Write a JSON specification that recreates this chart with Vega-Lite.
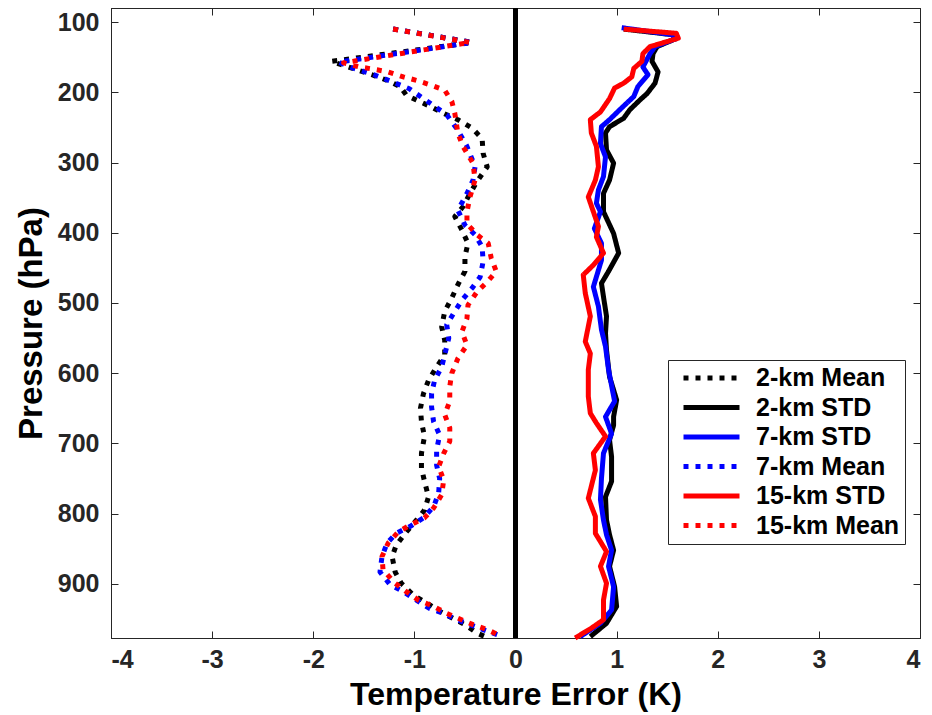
{
"$schema": "https://vega.github.io/schema/vega-lite/v6.json",
"width": 809, "height": 630,
"autosize": {"type": "none"},
"padding": {"left": 111, "top": 8, "right": 12, "bottom": 77},
"background": "white",
"config": {
  "font": "Liberation Sans",
  "view": {"stroke": "#262626", "strokeWidth": 1},
  "axis": {"grid": false, "domainColor": "#262626", "tickColor": "#262626", "labelColor": "#262626", "labelFont": "Liberation Sans", "labelFontWeight": "bold", "labelFontSize": 25, "titleFont": "Liberation Sans", "titleFontWeight": "bold", "titleFontSize": 33, "titleColor": "black", "tickSize": -7, "domainWidth": 1},
  "legend": {"orient": "none", "legendX": 557, "legendY": 352, "strokeColor": "#262626", "fillColor": "white", "padding": 5, "labelFont": "Liberation Sans", "labelFontSize": 25, "labelFontWeight": "bold", "labelColor": "black", "symbolType": "stroke", "symbolSize": 3136, "symbolStrokeWidth": 5, "rowPadding": 3.5, "clipHeight": 26, "labelOffset": 14, "symbolOffset": 8}
},
"datasets": {
  "zero": [{"x0": 0}],
  "profiles": [
{"s":"2-km Mean","p":110,"t":-1.21},{"s":"2-km Mean","p":129,"t":-0.43},{"s":"2-km Mean","p":156,"t":-1.82},{"s":"2-km Mean","p":175,"t":-1.42},{"s":"2-km Mean","p":183,"t":-1.27},{"s":"2-km Mean","p":192,"t":-1.14},{"s":"2-km Mean","p":204,"t":-1.08},{"s":"2-km Mean","p":211,"t":-0.98},{"s":"2-km Mean","p":221,"t":-0.83},{"s":"2-km Mean","p":230,"t":-0.71},{"s":"2-km Mean","p":239,"t":-0.57},{"s":"2-km Mean","p":251,"t":-0.43},{"s":"2-km Mean","p":266,"t":-0.33},{"s":"2-km Mean","p":287,"t":-0.32},{"s":"2-km Mean","p":306,"t":-0.28},{"s":"2-km Mean","p":327,"t":-0.38},{"s":"2-km Mean","p":344,"t":-0.45},{"s":"2-km Mean","p":363,"t":-0.52},{"s":"2-km Mean","p":377,"t":-0.60},{"s":"2-km Mean","p":396,"t":-0.53},{"s":"2-km Mean","p":415,"t":-0.47},{"s":"2-km Mean","p":434,"t":-0.50},{"s":"2-km Mean","p":455,"t":-0.50},{"s":"2-km Mean","p":474,"t":-0.57},{"s":"2-km Mean","p":493,"t":-0.63},{"s":"2-km Mean","p":512,"t":-0.70},{"s":"2-km Mean","p":534,"t":-0.73},{"s":"2-km Mean","p":553,"t":-0.70},{"s":"2-km Mean","p":574,"t":-0.70},{"s":"2-km Mean","p":591,"t":-0.78},{"s":"2-km Mean","p":610,"t":-0.86},{"s":"2-km Mean","p":629,"t":-0.91},{"s":"2-km Mean","p":650,"t":-0.94},{"s":"2-km Mean","p":669,"t":-0.93},{"s":"2-km Mean","p":690,"t":-0.90},{"s":"2-km Mean","p":714,"t":-0.93},{"s":"2-km Mean","p":735,"t":-0.93},{"s":"2-km Mean","p":754,"t":-0.90},{"s":"2-km Mean","p":776,"t":-0.86},{"s":"2-km Mean","p":795,"t":-0.90},{"s":"2-km Mean","p":811,"t":-0.99},{"s":"2-km Mean","p":828,"t":-1.09},{"s":"2-km Mean","p":845,"t":-1.18},{"s":"2-km Mean","p":861,"t":-1.22},{"s":"2-km Mean","p":883,"t":-1.19},{"s":"2-km Mean","p":899,"t":-1.13},{"s":"2-km Mean","p":916,"t":-1.01},{"s":"2-km Mean","p":927,"t":-0.88},{"s":"2-km Mean","p":939,"t":-0.75},{"s":"2-km Mean","p":949,"t":-0.62},{"s":"2-km Mean","p":958,"t":-0.50},{"s":"2-km Mean","p":970,"t":-0.38},{"s":"2-km Mean","p":977,"t":-0.27},
{"s":"2-km STD","p":110,"t":1.07},{"s":"2-km STD","p":118,"t":1.55},{"s":"2-km STD","p":124,"t":1.58},{"s":"2-km STD","p":135,"t":1.40},{"s":"2-km STD","p":145,"t":1.36},{"s":"2-km STD","p":156,"t":1.35},{"s":"2-km STD","p":171,"t":1.41},{"s":"2-km STD","p":187,"t":1.38},{"s":"2-km STD","p":202,"t":1.30},{"s":"2-km STD","p":211,"t":1.23},{"s":"2-km STD","p":225,"t":1.13},{"s":"2-km STD","p":237,"t":1.07},{"s":"2-km STD","p":249,"t":0.93},{"s":"2-km STD","p":258,"t":0.89},{"s":"2-km STD","p":282,"t":0.90},{"s":"2-km STD","p":301,"t":0.97},{"s":"2-km STD","p":325,"t":0.93},{"s":"2-km STD","p":344,"t":0.87},{"s":"2-km STD","p":370,"t":0.87},{"s":"2-km STD","p":401,"t":0.97},{"s":"2-km STD","p":429,"t":1.02},{"s":"2-km STD","p":455,"t":0.92},{"s":"2-km STD","p":472,"t":0.85},{"s":"2-km STD","p":491,"t":0.87},{"s":"2-km STD","p":519,"t":0.90},{"s":"2-km STD","p":543,"t":0.89},{"s":"2-km STD","p":567,"t":0.90},{"s":"2-km STD","p":605,"t":0.93},{"s":"2-km STD","p":638,"t":1.00},{"s":"2-km STD","p":662,"t":0.97},{"s":"2-km STD","p":674,"t":0.97},{"s":"2-km STD","p":695,"t":0.93},{"s":"2-km STD","p":719,"t":0.95},{"s":"2-km STD","p":754,"t":0.95},{"s":"2-km STD","p":776,"t":0.89},{"s":"2-km STD","p":809,"t":0.90},{"s":"2-km STD","p":830,"t":0.93},{"s":"2-km STD","p":852,"t":0.97},{"s":"2-km STD","p":875,"t":0.93},{"s":"2-km STD","p":904,"t":0.98},{"s":"2-km STD","p":932,"t":1.00},{"s":"2-km STD","p":956,"t":0.90},{"s":"2-km STD","p":975,"t":0.74},
{"s":"7-km STD","p":108,"t":1.05},{"s":"7-km STD","p":118,"t":1.55},{"s":"7-km STD","p":124,"t":1.58},{"s":"7-km STD","p":135,"t":1.38},{"s":"7-km STD","p":145,"t":1.33},{"s":"7-km STD","p":164,"t":1.26},{"s":"7-km STD","p":175,"t":1.31},{"s":"7-km STD","p":192,"t":1.21},{"s":"7-km STD","p":206,"t":1.17},{"s":"7-km STD","p":225,"t":1.03},{"s":"7-km STD","p":239,"t":0.93},{"s":"7-km STD","p":249,"t":0.85},{"s":"7-km STD","p":273,"t":0.84},{"s":"7-km STD","p":292,"t":0.89},{"s":"7-km STD","p":320,"t":0.87},{"s":"7-km STD","p":339,"t":0.82},{"s":"7-km STD","p":358,"t":0.80},{"s":"7-km STD","p":370,"t":0.84},{"s":"7-km STD","p":394,"t":0.78},{"s":"7-km STD","p":415,"t":0.85},{"s":"7-km STD","p":439,"t":0.85},{"s":"7-km STD","p":477,"t":0.77},{"s":"7-km STD","p":505,"t":0.82},{"s":"7-km STD","p":538,"t":0.85},{"s":"7-km STD","p":562,"t":0.89},{"s":"7-km STD","p":595,"t":0.92},{"s":"7-km STD","p":640,"t":0.98},{"s":"7-km STD","p":662,"t":0.89},{"s":"7-km STD","p":674,"t":0.92},{"s":"7-km STD","p":686,"t":0.95},{"s":"7-km STD","p":714,"t":0.87},{"s":"7-km STD","p":750,"t":0.85},{"s":"7-km STD","p":780,"t":0.84},{"s":"7-km STD","p":809,"t":0.87},{"s":"7-km STD","p":830,"t":0.90},{"s":"7-km STD","p":852,"t":0.95},{"s":"7-km STD","p":875,"t":0.92},{"s":"7-km STD","p":904,"t":0.97},{"s":"7-km STD","p":937,"t":0.95},{"s":"7-km STD","p":956,"t":0.84},{"s":"7-km STD","p":975,"t":0.64},
{"s":"7-km Mean","p":110,"t":-1.21},{"s":"7-km Mean","p":129,"t":-0.43},{"s":"7-km Mean","p":157,"t":-1.75},{"s":"7-km Mean","p":165,"t":-1.62},{"s":"7-km Mean","p":175,"t":-1.40},{"s":"7-km Mean","p":185,"t":-1.22},{"s":"7-km Mean","p":195,"t":-1.05},{"s":"7-km Mean","p":215,"t":-0.85},{"s":"7-km Mean","p":232,"t":-0.68},{"s":"7-km Mean","p":254,"t":-0.57},{"s":"7-km Mean","p":277,"t":-0.48},{"s":"7-km Mean","p":306,"t":-0.40},{"s":"7-km Mean","p":325,"t":-0.42},{"s":"7-km Mean","p":344,"t":-0.48},{"s":"7-km Mean","p":368,"t":-0.57},{"s":"7-km Mean","p":389,"t":-0.50},{"s":"7-km Mean","p":403,"t":-0.40},{"s":"7-km Mean","p":420,"t":-0.33},{"s":"7-km Mean","p":441,"t":-0.32},{"s":"7-km Mean","p":463,"t":-0.35},{"s":"7-km Mean","p":479,"t":-0.43},{"s":"7-km Mean","p":496,"t":-0.53},{"s":"7-km Mean","p":512,"t":-0.60},{"s":"7-km Mean","p":531,"t":-0.68},{"s":"7-km Mean","p":550,"t":-0.66},{"s":"7-km Mean","p":574,"t":-0.70},{"s":"7-km Mean","p":591,"t":-0.73},{"s":"7-km Mean","p":610,"t":-0.80},{"s":"7-km Mean","p":629,"t":-0.83},{"s":"7-km Mean","p":648,"t":-0.83},{"s":"7-km Mean","p":669,"t":-0.81},{"s":"7-km Mean","p":688,"t":-0.75},{"s":"7-km Mean","p":709,"t":-0.78},{"s":"7-km Mean","p":731,"t":-0.78},{"s":"7-km Mean","p":750,"t":-0.75},{"s":"7-km Mean","p":771,"t":-0.76},{"s":"7-km Mean","p":790,"t":-0.81},{"s":"7-km Mean","p":806,"t":-0.91},{"s":"7-km Mean","p":818,"t":-1.04},{"s":"7-km Mean","p":828,"t":-1.18},{"s":"7-km Mean","p":842,"t":-1.27},{"s":"7-km Mean","p":861,"t":-1.32},{"s":"7-km Mean","p":883,"t":-1.34},{"s":"7-km Mean","p":901,"t":-1.24},{"s":"7-km Mean","p":911,"t":-1.11},{"s":"7-km Mean","p":923,"t":-0.98},{"s":"7-km Mean","p":935,"t":-0.85},{"s":"7-km Mean","p":942,"t":-0.71},{"s":"7-km Mean","p":951,"t":-0.58},{"s":"7-km Mean","p":958,"t":-0.45},{"s":"7-km Mean","p":965,"t":-0.32},{"s":"7-km Mean","p":974,"t":-0.15},
{"s":"15-km STD","p":110,"t":1.07},{"s":"15-km STD","p":116,"t":1.59},{"s":"15-km STD","p":123,"t":1.61},{"s":"15-km STD","p":135,"t":1.33},{"s":"15-km STD","p":145,"t":1.26},{"s":"15-km STD","p":156,"t":1.25},{"s":"15-km STD","p":166,"t":1.17},{"s":"15-km STD","p":178,"t":1.15},{"s":"15-km STD","p":187,"t":1.07},{"s":"15-km STD","p":194,"t":0.98},{"s":"15-km STD","p":209,"t":0.93},{"s":"15-km STD","p":228,"t":0.84},{"s":"15-km STD","p":239,"t":0.74},{"s":"15-km STD","p":258,"t":0.75},{"s":"15-km STD","p":277,"t":0.80},{"s":"15-km STD","p":306,"t":0.82},{"s":"15-km STD","p":325,"t":0.79},{"s":"15-km STD","p":349,"t":0.72},{"s":"15-km STD","p":370,"t":0.77},{"s":"15-km STD","p":391,"t":0.82},{"s":"15-km STD","p":406,"t":0.80},{"s":"15-km STD","p":429,"t":0.87},{"s":"15-km STD","p":446,"t":0.77},{"s":"15-km STD","p":460,"t":0.67},{"s":"15-km STD","p":486,"t":0.69},{"s":"15-km STD","p":519,"t":0.74},{"s":"15-km STD","p":555,"t":0.69},{"s":"15-km STD","p":572,"t":0.74},{"s":"15-km STD","p":595,"t":0.72},{"s":"15-km STD","p":633,"t":0.72},{"s":"15-km STD","p":657,"t":0.74},{"s":"15-km STD","p":671,"t":0.80},{"s":"15-km STD","p":690,"t":0.89},{"s":"15-km STD","p":714,"t":0.77},{"s":"15-km STD","p":738,"t":0.79},{"s":"15-km STD","p":778,"t":0.72},{"s":"15-km STD","p":804,"t":0.79},{"s":"15-km STD","p":828,"t":0.79},{"s":"15-km STD","p":854,"t":0.90},{"s":"15-km STD","p":875,"t":0.84},{"s":"15-km STD","p":899,"t":0.90},{"s":"15-km STD","p":923,"t":0.87},{"s":"15-km STD","p":951,"t":0.87},{"s":"15-km STD","p":963,"t":0.75},{"s":"15-km STD","p":977,"t":0.59},
{"s":"15-km Mean","p":110,"t":-1.21},{"s":"15-km Mean","p":129,"t":-0.45},{"s":"15-km Mean","p":158,"t":-1.70},{"s":"15-km Mean","p":164,"t":-1.54},{"s":"15-km Mean","p":168,"t":-1.37},{"s":"15-km Mean","p":171,"t":-1.26},{"s":"15-km Mean","p":178,"t":-1.11},{"s":"15-km Mean","p":183,"t":-0.98},{"s":"15-km Mean","p":190,"t":-0.83},{"s":"15-km Mean","p":197,"t":-0.70},{"s":"15-km Mean","p":213,"t":-0.63},{"s":"15-km Mean","p":230,"t":-0.60},{"s":"15-km Mean","p":258,"t":-0.57},{"s":"15-km Mean","p":277,"t":-0.52},{"s":"15-km Mean","p":301,"t":-0.42},{"s":"15-km Mean","p":325,"t":-0.40},{"s":"15-km Mean","p":349,"t":-0.45},{"s":"15-km Mean","p":370,"t":-0.48},{"s":"15-km Mean","p":387,"t":-0.48},{"s":"15-km Mean","p":403,"t":-0.38},{"s":"15-km Mean","p":415,"t":-0.27},{"s":"15-km Mean","p":436,"t":-0.24},{"s":"15-km Mean","p":455,"t":-0.19},{"s":"15-km Mean","p":470,"t":-0.28},{"s":"15-km Mean","p":484,"t":-0.38},{"s":"15-km Mean","p":503,"t":-0.47},{"s":"15-km Mean","p":522,"t":-0.48},{"s":"15-km Mean","p":541,"t":-0.53},{"s":"15-km Mean","p":560,"t":-0.48},{"s":"15-km Mean","p":579,"t":-0.57},{"s":"15-km Mean","p":600,"t":-0.63},{"s":"15-km Mean","p":619,"t":-0.65},{"s":"15-km Mean","p":640,"t":-0.65},{"s":"15-km Mean","p":659,"t":-0.70},{"s":"15-km Mean","p":678,"t":-0.65},{"s":"15-km Mean","p":697,"t":-0.65},{"s":"15-km Mean","p":714,"t":-0.71},{"s":"15-km Mean","p":733,"t":-0.76},{"s":"15-km Mean","p":752,"t":-0.71},{"s":"15-km Mean","p":773,"t":-0.73},{"s":"15-km Mean","p":792,"t":-0.81},{"s":"15-km Mean","p":806,"t":-0.90},{"s":"15-km Mean","p":816,"t":-1.04},{"s":"15-km Mean","p":826,"t":-1.16},{"s":"15-km Mean","p":842,"t":-1.26},{"s":"15-km Mean","p":861,"t":-1.32},{"s":"15-km Mean","p":880,"t":-1.31},{"s":"15-km Mean","p":899,"t":-1.19},{"s":"15-km Mean","p":911,"t":-1.08},{"s":"15-km Mean","p":923,"t":-0.96},{"s":"15-km Mean","p":932,"t":-0.81},{"s":"15-km Mean","p":942,"t":-0.68},{"s":"15-km Mean","p":950,"t":-0.55},{"s":"15-km Mean","p":958,"t":-0.42},{"s":"15-km Mean","p":965,"t":-0.28},{"s":"15-km Mean","p":974,"t":-0.15}
  ]
},
"resolve": {"axis": {"x": "independent", "y": "independent"}},
"layer": [
  {
    "data": {"name": "profiles"},
    "mark": {"type": "line", "strokeWidth": 5, "strokeCap": "butt", "strokeJoin": "round"},
    "encoding": {
      "x": {"field": "t", "type": "quantitative", "scale": {"domain": [-4, 4], "nice": false, "zero": false},
            "axis": {"values": [-4,-3,-2,-1,0,1,2,3,4], "labelExpr": "'' + datum.value", "title": "Temperature Error (K)", "labelPadding": 16, "titlePadding": 7, "titleFontSize": 32}},
      "y": {"field": "p", "type": "quantitative", "scale": {"domain": [80, 977], "reverse": true, "nice": false, "zero": false},
            "axis": {"values": [100,200,300,400,500,600,700,800,900], "title": "Pressure (hPa)", "labelPadding": 19, "titlePadding": 9}},
      "order": {"field": "p", "type": "quantitative"},
      "color": {"field": "s", "type": "nominal",
                "scale": {"domain": ["2-km Mean","2-km STD","7-km STD","7-km Mean","15-km STD","15-km Mean"], "range": ["#000000","#000000","#0000ff","#0000ff","#ff0000","#ff0000"]},
                "legend": {"title": null}},
      "strokeDash": {"field": "s", "type": "nominal",
                "scale": {"domain": ["2-km Mean","2-km STD","7-km STD","7-km Mean","15-km STD","15-km Mean"], "range": [[5,7],[1,0],[1,0],[5,7],[1,0],[5,7]]},
                "legend": {"title": null}}
    }
  },
  {
    "data": {"name": "zero"},
    "mark": {"type": "rule", "color": "black", "strokeWidth": 5},
    "encoding": {"x": {"field": "x0", "type": "quantitative", "axis": null}}
  },
  {
    "data": {"name": "zero"},
    "mark": {"type": "point", "opacity": 0},
    "encoding": {
      "x": {"field": "x0", "type": "quantitative", "axis": {"orient": "top", "values": [-4,-3,-2,-1,0,1,2,3,4], "labels": false, "title": null}},
      "y": {"datum": 500, "type": "quantitative", "axis": {"orient": "right", "values": [100,200,300,400,500,600,700,800,900], "labels": false, "title": null}}
    }
  }
]
}
